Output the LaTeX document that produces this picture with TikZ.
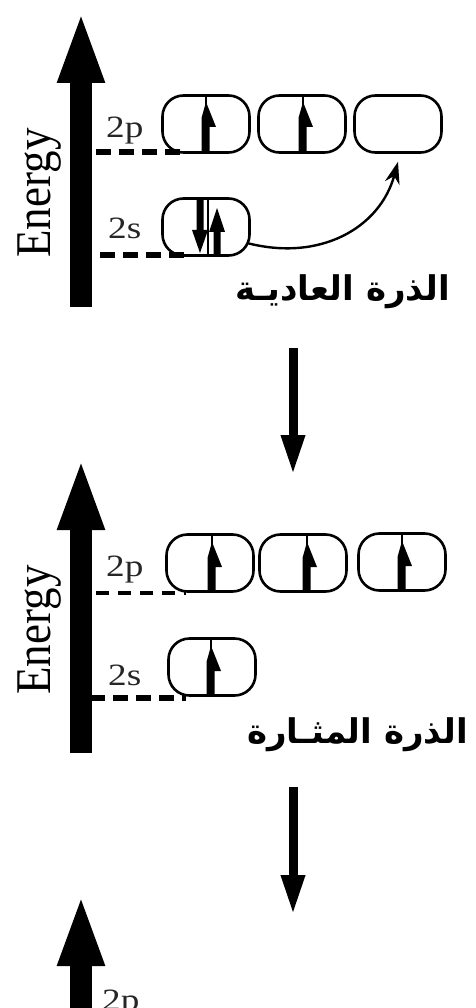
\documentclass[tikz,border=0pt]{standalone}
\usepackage{fontspec}
\setmainfont{Liberation Serif}
\newfontfamily\arabicfont[Script=Arabic]{DejaVu Sans Bold}
\TeXXeTstate=1
\usetikzlibrary{arrows.meta}

% electron pointing up: thin divider with a thick half-headed arrow
\newcommand\elecup[3]{%
  \draw[line width=1.8pt] (#1,#2) -- (#1,#3);
  \fill ({#1-4.5},#3) -- ({#1-4.5},{#2+22}) -- (#1,{#2+6}) -- ({#1+10},{#2+31})
        -- ({#1+3.5},{#2+31}) -- ({#1+3.5},#3) -- cycle;}
% electron pointing down
\newcommand\elecdown[3]{%
  \fill ({#1-3.5},#2) -- ({#1+3.5},#2) -- ({#1+3.5},{#3-24}) -- ({#1+8},{#3-24})
        -- (#1,{#3-1}) -- ({#1-8},{#3-24}) -- ({#1-3.5},{#3-24}) -- cycle;}
% a second electron pointing up (full head)
\newcommand\elecupfull[3]{%
  \fill ({#1-3.5},#3) -- ({#1+3.5},#3) -- ({#1+3.5},{#2+32}) -- ({#1+8},{#2+32})
        -- (#1,{#2+8}) -- ({#1-8},{#2+32}) -- ({#1-3.5},{#2+32}) -- cycle;}

\begin{document}
\begin{tikzpicture}[x=1pt,y=-1pt,
  orb/.style={draw=black, line width=2.6pt, rounded corners=21pt,
    minimum width=87pt, minimum height=57pt, inner sep=0pt},
  lvl/.style={line width=6pt, dash pattern=on 15pt off 8pt},
  lvlthin/.style={line width=4pt, dash pattern=on 13pt off 9pt},
  lbl/.style={font=\fontsize{31}{31}\selectfont, anchor=base west, inner sep=0pt, text=black!85},
  axisarrow/.style={line width=22pt, -{Triangle[length=73pt 0 0, width=42pt 0 0]}},
  flow/.style={line width=9pt, -{Triangle[length=40pt 0 0, width=22pt 0 0]}},
  jump/.style={line width=2.4pt, -{Stealth[length=22pt 0 0, width=15pt 0 0]}},
  energy/.style={rotate=90, inner sep=0pt, font=\fontsize{50}{50}\selectfont},
  arlabel/.style={anchor=east, inner sep=0pt, font=\arabicfont\fontsize{34}{34}\selectfont}]

\fill[white] (0,0) rectangle (475,1008);
\useasboundingbox (0,0) rectangle (475,1008);
\clip (0,0) rectangle (475,1008);

% ---------- ground state ----------
\coordinate (a1b) at (81,307);
\coordinate (a1t) at (81,10);
\draw[axisarrow] (a1b) -- (a1t);
\node[energy] (e1) at (40,193) {\scalebox{0.9}[1]{Energy}};

\node[orb] (p11) at (206,124) {};
\node[orb] (p12) at (302,124) {};
\node[orb] (p13) at (398,124) {};
\node[orb] (s11) at (206,227) {};

\draw[lvl] (96,152) -- (186,152);
\draw[lvl] (100,255) -- (186,255);
\node[lbl] (l2p1) at (106,138) {\scalebox{1.2}[1]{2p}};
\node[lbl] (l2s1) at (108,238) {\scalebox{1.2}[1]{2s}};

\elecup{206}{96}{152}
\elecup{303}{96}{152}
\draw[line width=1.8pt] (208,199) -- (208,255);
\elecdown{200}{200}{254}
\elecupfull{217}{200}{255}

\coordinate (j0) at (247,243);
\coordinate (j1) at ([yshift=-8pt]p13.south);
\draw[jump] (j0) .. controls (320,262) and (380,228) .. (j1);

\node[arlabel] (t1) at (450,292) {\beginR الذرة العاديـة\endR};

\coordinate (f1a) at (293,348);
\coordinate (f1b) at (293,475);
\draw[flow] (f1a) -- (f1b);

% ---------- excited state ----------
\coordinate (a2b) at (81,753);
\coordinate (a2t) at (81,457);
\draw[axisarrow] (a2b) -- (a2t);
\node[energy] (e2) at (40,630) {\scalebox{0.9}[1]{Energy}};

\node[orb] (p21) at (210,563) {};
\node[orb] (p22) at (303,563) {};
\node[orb] (p23) at (402,562) {};
\node[orb] (s21) at (212,667) {};

\draw[lvlthin] (96,593) -- (186,593);
\draw[lvl] (90,698) -- (186,698);
\node[lbl] (l2p2) at (106,576) {\scalebox{1.2}[1]{2p}};
\node[lbl] (l2s2) at (108,685) {\scalebox{1.2}[1]{2s}};

\elecup{212}{536}{591}
\elecup{307}{536}{591}
\elecup{402}{535}{590}
\elecup{211}{640}{695}

\node[arlabel] (t2) at (468,735) {\beginR الذرة المثـارة\endR};

\coordinate (f2a) at (293,787);
\coordinate (f2b) at (293,915);
\draw[flow] (f2a) -- (f2b);

% ---------- hybrid state (continues below) ----------
\coordinate (a3b) at (81,1040);
\coordinate (a3t) at (81,893);
\draw[axisarrow] (a3b) -- (a3t);
\node[lbl] (l2p3) at (102,1010) {\scalebox{1.2}[1]{2p}};
\end{tikzpicture}
\end{document}
